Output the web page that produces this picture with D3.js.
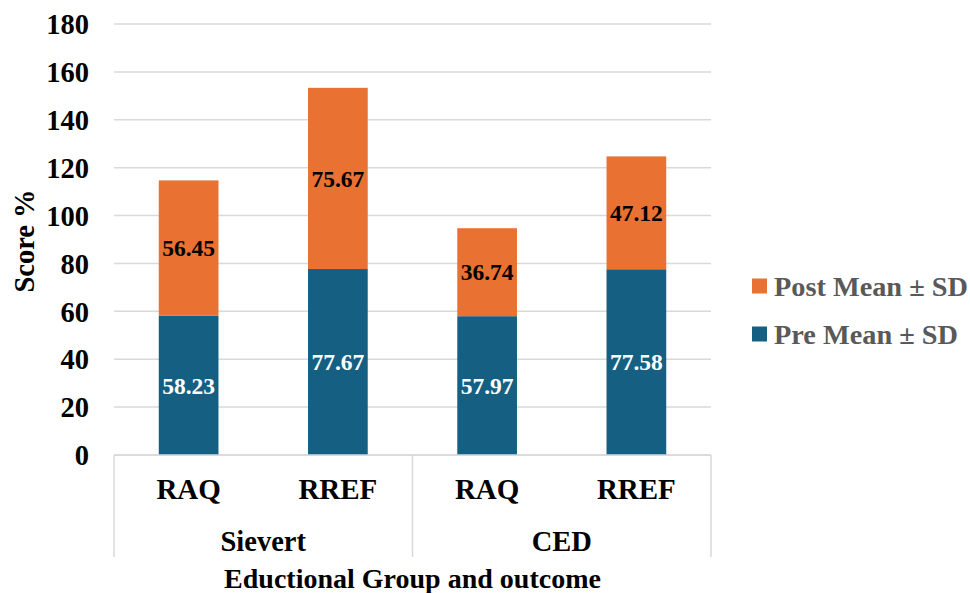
<!DOCTYPE html>
<html>
<head>
<meta charset="utf-8">
<script src="https://cdn.jsdelivr.net/npm/d3@7"></script>
<style>
  html, body { margin: 0; padding: 0; background: #fff; }
  svg { display: block; font-family: "Liberation Serif", "Times New Roman", serif; font-weight: bold; }
</style>
</head>
<body>
<svg id="chart" width="970" height="593"></svg>
<script>
// Outcomes grouped by educational group
const groups = ["Sievert", "CED"];
const outcomes = ["RAQ", "RREF"];
const categories = ["Sievert|RAQ", "Sievert|RREF", "CED|RAQ", "CED|RREF"];
const preMean = [58.23, 77.67, 57.97, 77.58];
const postMean = [56.45, 75.67, 36.74, 47.12];
const yTicks = [0, 20, 40, 60, 80, 100, 120, 140, 160, 180];
const seriesNames = ["Post Mean ± SD", "Pre Mean ± SD"];

const colors = { pre: "#156082", post: "#E97132" };
const svg = d3.select("#chart");

const plot = { left: 114, right: 711, top: 24, bottom: 455 };

const x = d3.scaleBand().domain(categories).range([plot.left, plot.right]).paddingInner(0.6).paddingOuter(0.3);
const y = d3.scaleLinear().domain([0, 180]).range([plot.bottom, plot.top]);

// Horizontal gridlines
svg.append("g").selectAll("line").data(yTicks).join("line")
  .attr("x1", plot.left).attr("x2", plot.right)
  .attr("y1", d => y(d)).attr("y2", d => y(d))
  .attr("stroke", "#d9d9d9").attr("stroke-width", 1.5);

// Y axis tick labels
const yAxis = d3.axisLeft(y).tickValues(yTicks).tickSize(0).tickPadding(0);
const yg = svg.append("g").attr("transform", `translate(89,0)`).call(yAxis);
yg.select(".domain").remove();
yg.selectAll("text").attr("font-size", 28.5).attr("font-family", "Liberation Serif").attr("font-weight", "bold").attr("fill", "#000").attr("dy", "0.34em");

// Stacked bars
const rows = categories.map((c, i) => ({ cat: c, pre: preMean[i], post: postMean[i] }));
const stack = d3.stack().keys(["pre", "post"])(rows);

const layers = svg.append("g").selectAll("g").data(stack).join("g")
  .attr("fill", d => colors[d.key]);
layers.selectAll("rect").data(d => d).join("rect")
  .attr("x", d => x(d.data.cat))
  .attr("width", x.bandwidth())
  .attr("y", d => y(d[1]))
  .attr("height", d => y(d[0]) - y(d[1]));

// Value labels centred in each segment
stack.forEach(layer => {
  svg.append("g").selectAll("text").data(layer).join("text")
    .attr("x", d => x(d.data.cat) + x.bandwidth() / 2)
    .attr("y", d => y((d[0] + d[1]) / 2))
    .attr("dy", "0.35em")
    .attr("text-anchor", "middle")
    .attr("font-size", 23.5)
    .attr("fill", layer.key === "pre" ? "#fff" : "#000")
    .text(d => (d[1] - d[0]).toFixed(2));
});

// Multi-level category axis
const axisG = svg.append("g").attr("stroke", "#d9d9d9").attr("stroke-width", 1.5);
axisG.append("line").attr("x1", plot.left).attr("x2", plot.right).attr("y1", plot.bottom).attr("y2", plot.bottom);
const step = x.step();
const groupEdges = [plot.left, plot.left + step * 2, plot.right];
axisG.selectAll("line.sep").data(groupEdges).join("line").attr("class", "sep")
  .attr("x1", d => d).attr("x2", d => d).attr("y1", plot.bottom).attr("y2", 557);

svg.append("g").selectAll("text").data(categories).join("text")
  .attr("x", d => x(d) + x.bandwidth() / 2)
  .attr("y", 489).attr("dy", "0.35em")
  .attr("text-anchor", "middle").attr("font-size", 29)
  .text(d => d.split("|")[1]);

svg.append("g").selectAll("text").data(groups).join("text")
  .attr("x", (d, i) => (groupEdges[i] + groupEdges[i + 1]) / 2)
  .attr("y", 541).attr("dy", "0.35em")
  .attr("text-anchor", "middle").attr("font-size", 28.5)
  .text(d => d);

// Axis titles
svg.append("text").attr("x", (plot.left + plot.right) / 2).attr("y", 578).attr("dy", "0.35em")
  .attr("text-anchor", "middle").attr("font-size", 28).text("Eductional Group and outcome");
svg.append("text").attr("transform", `translate(24,241) rotate(-90)`).attr("dy", "0.35em")
  .attr("text-anchor", "middle").attr("font-size", 28.5).text("Score %");

// Legend
const legend = svg.append("g");
const legendKeys = ["post", "pre"];
legendKeys.forEach((k, i) => {
  const cy = 286 + i * 48;
  legend.append("rect").attr("x", 752).attr("y", cy - 7.5).attr("width", 15).attr("height", 15).attr("fill", colors[k]);
  legend.append("text").attr("x", 774).attr("y", cy).attr("dy", "0.35em")
    .attr("font-size", 28.3).attr("fill", "#595959").text(seriesNames[i]);
});
</script>
</body>
</html>
